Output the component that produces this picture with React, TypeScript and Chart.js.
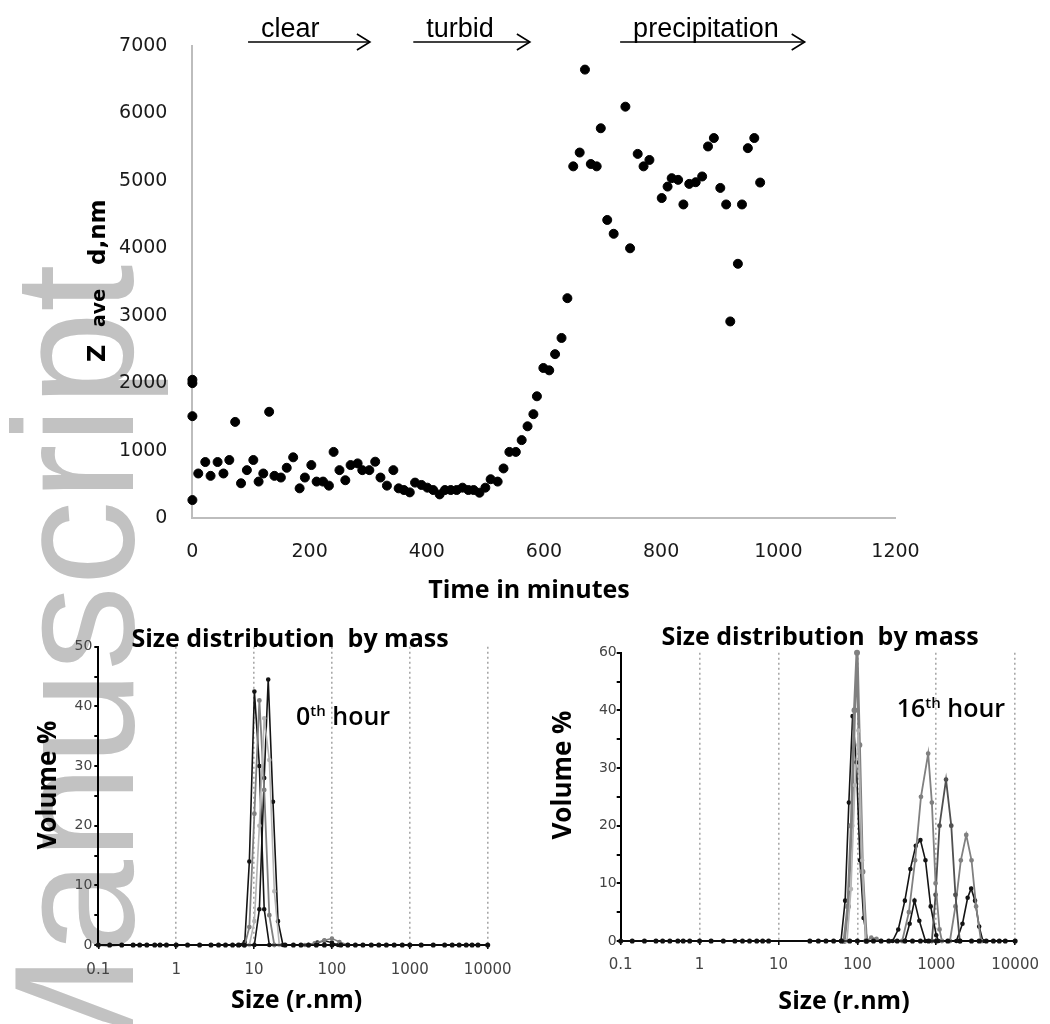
import React, { useEffect, useRef } from "react";
import { Chart, registerables } from "chart.js";

Chart.register(...registerables);

// ================= Top panel: Z-average diameter vs time =================
const timeMinutes = [
  0, 0, 0, 0, 10, 22, 31, 43, 53, 63,
  73, 83, 93, 104, 113, 121, 131, 140, 151, 161,
  172, 183, 192, 203, 212, 223, 233, 241, 251, 261,
  270, 282, 290, 302, 312, 321, 332, 343, 352, 361,
  371, 380, 391, 401, 411, 422, 431, 441, 451, 461,
  471, 480, 490, 500, 509, 521, 531, 541, 552, 562,
  572, 582, 588, 599, 609, 619, 630, 640, 650, 661,
  670, 680, 690, 697, 708, 719, 739, 747, 760, 770,
  780, 801, 811, 818, 829, 838, 848, 859, 870, 880,
  890, 901, 911, 918, 931, 938, 948, 959, 969,
];
const zAverageNm = [
  266, 1510, 2000, 2050, 660, 830, 625, 830, 660, 860,
  1425, 515, 710, 860, 540, 660, 1575, 625, 600, 745,
  900, 440, 600, 785, 540, 540, 480, 980, 710, 560,
  785, 810, 710, 710, 835, 600, 480, 710, 440, 415,
  380, 525, 490, 450, 415, 350, 415, 415, 415, 450,
  415, 415, 375, 450, 575, 540, 735, 980, 980, 1155,
  1360, 1540, 1805, 2225, 2190, 2430, 2670, 3260, 5215, 5420,
  6650, 5250, 5215, 5780, 4420, 4215, 6100, 4000, 5400, 5215,
  5310, 4745, 4915, 5040, 5015, 4650, 4955, 4980, 5065, 5510,
  5635, 4895, 4650, 2915, 3770, 4650, 5485, 5635, 4975,
];
const topXTicks = [0, 200, 400, 600, 800, 1000, 1200];
const topYTicks = [0, 1000, 2000, 3000, 4000, 5000, 6000, 7000];
const phaseLabels = ["clear", "turbid", "precipitation"];
const phaseStartMin = [95, 377, 730];
const phaseEndMin = [303, 576, 1045];
const phaseArrowLevel = 7060;

// ================= Bottom panels: size distribution by mass =================
const sizeTicks = [0.1, 1, 10, 100, 1000, 10000];
const sizeTickLabels = ["0.1", "1", "10", "100", "1000", "10000"];
const volumeTickValues = [0, 10, 20, 30, 40, 50];
const volumeTickLabelsLeft = ["0", "10", "20", "30", "40", "50"];
const volumeTickLabelsRight = ["0", "10", "20", "30", "40", "60"];

const baselineSizes = [
  0.1, 0.14, 0.2, 0.28, 0.34, 0.42, 0.53, 0.62, 0.75, 1, 1.4, 2, 2.8, 3.5, 4.3,
  5.3, 6.3, 7.5, 25, 32, 40, 50, 63, 80, 100, 130, 160, 200, 250, 320, 400,
  500, 630, 800, 1000, 1400, 2000, 2800, 3500, 4300, 5300, 6300, 7500, 10000,
];
const baselineVolumes = [
  0, 0, 0, 0, 0, 0, 0, 0, 0, 0, 0, 0, 0, 0, 0,
  0, 0, 0, 0, 0, 0, 0, 0, 0, 0, 0, 0, 0, 0, 0, 0,
  0, 0, 0, 0, 0, 0, 0, 0, 0, 0, 0, 0, 0,
];

// 0th hour curves
const h0BlackASize = [6.5, 7.6, 8.7, 10.1, 11.7, 13.5, 15.7];
const h0BlackAVol = [0, 0.5, 14, 42.5, 30, 6, 0];
const h0GrayBSize = [7.6, 8.7, 10.1, 11.7, 13.5, 15.7, 18.2];
const h0GrayBVol = [0, 3, 22, 41, 26, 5, 0];
const h0BlackCSize = [10.1, 11.7, 13.5, 15.2, 17.5, 20.3, 23.5];
const h0BlackCVol = [0, 6, 28, 44.5, 24, 4, 0];
const h0LightDSize = [8.7, 10.1, 11.7, 13.5, 15.7, 18.2, 21.1];
const h0LightDVol = [0, 4, 20, 38, 31, 9, 0];
const h0GrayESize = [45, 60, 80, 100, 125, 160];
const h0GrayEVol = [0, 0.3, 0.8, 1.1, 0.5, 0];
const h0BlackFSize = [50, 65, 80, 100, 120];
const h0BlackFVol = [0, 0.4, 0.7, 0.4, 0];

// 16th hour curves
const h16GrayThickSize = [68, 76, 84, 92, 99, 106, 116, 130];
const h16GrayThickVol = [0, 6, 20, 40, 50, 34, 12, 0];
const h16BlackASize = [62, 70, 78, 87, 97, 108, 120, 134];
const h16BlackAVol = [0, 7, 24, 39, 31, 14, 4, 0];
const h16LightSize = [74, 83, 93, 103, 115, 128];
const h16LightVol = [0, 9, 27, 36.5, 14, 0];
const h16BumpSize = [130, 150, 175, 200];
const h16BumpVol = [0, 0.6, 0.4, 0];
const h16BlackBSize = [280, 330, 400, 470, 550, 630, 730, 850, 1000, 1070];
const h16BlackBVol = [0, 2, 7, 12.5, 16.5, 17.5, 14, 6, 1, 0];
const h16GrayBSize = [370, 450, 540, 640, 790, 880, 980, 1100, 1180];
const h16GrayBVol = [0, 5, 14, 25, 32.5, 24, 10, 2, 0];
const h16DarkCSize = [880, 980, 1100, 1330, 1550, 1750, 1990];
const h16DarkCVol = [0, 8, 20, 28, 20, 8, 0];
const h16GrayDSize = [1490, 1750, 2050, 2400, 2800, 3200, 3700];
const h16GrayDVol = [0, 6, 14, 18.4, 14, 6, 0];
const h16BlackDSize = [1800, 2150, 2500, 2770, 3100, 3500, 3900];
const h16BlackDVol = [0, 3, 7.5, 9.1, 7, 2.5, 0];
const h16BlackESize = [400, 460, 530, 610, 730];
const h16BlackEVol = [0, 3, 7, 3.5, 0];

// ================= helpers =================
type Run = { text: string; font: string; at?: number; dy?: number };
type TextItem = {
  x: number;
  y: number;
  runs: Run[];
  align?: "left" | "center";
  rotate?: number;
  color?: string;
};

function drawItem(ctx: CanvasRenderingContext2D, it: TextItem) {
  ctx.save();
  ctx.translate(it.x, it.y);
  if (it.rotate) ctx.rotate(it.rotate);
  ctx.fillStyle = it.color || "#000";
  ctx.textBaseline = "alphabetic";
  ctx.textAlign = "left";
  const widths = it.runs.map((r) => {
    ctx.font = r.font;
    return ctx.measureText(r.text).width;
  });
  const total = widths.reduce((a, b) => a + b, 0);
  let x0 = it.align === "center" ? -total / 2 : 0;
  it.runs.forEach((r, i) => {
    ctx.font = r.font;
    const px = r.at !== undefined ? r.at : x0;
    ctx.fillText(r.text, px, r.dy || 0);
    x0 = px + widths[i];
  });
  ctx.restore();
}

function overlay(items: TextItem[], extra?: (c: any) => void) {
  return {
    id: "overlay",
    afterDraw(chart: any) {
      items.forEach((it) => drawItem(chart.ctx, it));
      if (extra) extra(chart);
    },
  };
}

function pairs(xs: number[], ys: number[]) {
  return xs.map((x, i) => ({ x, y: ys[i] }));
}

const BOLD = '700 25px "Open Sans"';

function ChartCanvas(props: { make: () => any; left: number; top: number; width: number; height: number }) {
  const ref = useRef<HTMLCanvasElement>(null);
  useEffect(() => {
    const chart = new Chart(ref.current as HTMLCanvasElement, props.make());
    return () => chart.destroy();
  }, []);
  return (
    <canvas
      ref={ref}
      width={props.width}
      height={props.height}
      style={{ position: "absolute", left: props.left, top: props.top, width: props.width, height: props.height }}
    />
  );
}

// ================= Top chart config =================
function makeTop() {
  const tickFont = { family: '"DejaVu Sans"', size: 19 };
  const arrows = (chart: any) => {
    const xs = chart.scales.x;
    const ys = chart.scales.y;
    const ctx: CanvasRenderingContext2D = chart.ctx;
    const yy = ys.getPixelForValue(phaseArrowLevel);
    ctx.save();
    phaseLabels.forEach((lab, i) => {
      const x1 = xs.getPixelForValue(phaseStartMin[i]);
      const x2 = xs.getPixelForValue(phaseEndMin[i]);
      ctx.strokeStyle = "#000";
      ctx.lineWidth = 1.6;
      ctx.beginPath();
      ctx.moveTo(x1, yy);
      ctx.lineTo(x2, yy);
      ctx.stroke();
      ctx.beginPath();
      ctx.moveTo(x2 - 13, yy - 8);
      ctx.lineTo(x2, yy);
      ctx.lineTo(x2 - 13, yy + 8);
      ctx.stroke();
      ctx.font = '27px "Liberation Sans"';
      ctx.fillStyle = "#000";
      ctx.textAlign = "left";
      ctx.textBaseline = "alphabetic";
      ctx.fillText(lab, x1 + 13, yy - 5);
    });
    ctx.restore();
  };
  const items: TextItem[] = [
    { x: 529, y: 598, align: "center", runs: [{ text: "Time in minutes", font: BOLD }] },
    {
      x: 105,
      y: 362,
      rotate: -Math.PI / 2,
      runs: [
        { text: "Z", font: 'bold 24px "DejaVu Sans"', at: 0 },
        { text: "ave", font: 'bold 19px "DejaVu Sans"', at: 35 },
        { text: "d,nm", font: 'bold 23px "DejaVu Sans"', at: 97 },
      ],
    },
  ];
  return {
    type: "scatter",
    data: {
      datasets: [
        {
          data: pairs(timeMinutes, zAverageNm),
          backgroundColor: "#000",
          borderColor: "#000",
          pointRadius: 4.5,
          pointHoverRadius: 4.5,
          pointStyle: "circle",
          clip: false,
        },
      ],
    },
    options: {
      responsive: false,
      animation: false,
      devicePixelRatio: 1,
      layout: { padding: { left: 0, top: 46, right: 154.5, bottom: 0 } },
      plugins: { legend: { display: false }, tooltip: { enabled: false } },
      scales: {
        x: {
          type: "linear",
          min: 0,
          max: 1200,
          afterBuildTicks: (s: any) => {
            s.ticks = topXTicks.map((v) => ({ value: v }));
          },
          ticks: { font: tickFont, color: "#1a1a1a", padding: 23, maxRotation: 0, autoSkip: false, callback: (v: any) => String(v) },
          grid: { display: false, drawTicks: false },
          border: { display: true, color: "#bdbdbd", width: 2 },
          afterFit: (s: any) => {
            s.height = 92;
          },
        },
        y: {
          type: "linear",
          min: 0,
          max: 7000,
          afterBuildTicks: (s: any) => {
            s.ticks = topYTicks.map((v) => ({ value: v }));
          },
          ticks: { font: tickFont, color: "#1a1a1a", padding: 25, autoSkip: false, callback: (v: any) => String(v) },
          grid: { display: false, drawTicks: false },
          border: { display: true, color: "#bdbdbd", width: 2 },
          afterFit: (s: any) => {
            s.width = 192.4;
          },
        },
      },
    },
    plugins: [overlay(items, arrows)],
  };
}

// ================= Bottom chart config =================
type Curve = { sizes: number[]; vols: number[]; color: string; width: number };

function makeSize(p: {
  width: number;
  height: number;
  chartLeft: number;
  chartRight: number;
  chartTop: number;
  chartBottom: number;
  yLabels: string[];
  curves: Curve[];
  titleX: number;
  titleY: number;
  hourX: number;
  hourY: number;
  hourMain: string;
  volX: number;
  volY: number;
  sizeX: number;
  sizeY: number;
  xPad: number;
  yPad: number;
}) {
  const xTickFont = { family: '"DejaVu Sans"', size: 15 };
  const yTickFont = { family: '"DejaVu Sans"', size: 14 };
  const items: TextItem[] = [
    { x: p.titleX, y: p.titleY, align: "center", runs: [{ text: "Size distribution  by mass", font: BOLD }] },
    {
      x: p.hourX,
      y: p.hourY,
      runs: [
        { text: p.hourMain, font: '600 25px "Open Sans"' },
        { text: "th", font: '600 15px "Open Sans"', dy: -9 },
        { text: " hour", font: '600 25px "Open Sans"' },
      ],
    },
    { x: p.volX, y: p.volY, rotate: -Math.PI / 2, align: "center", runs: [{ text: "Volume %", font: '700 26px "Open Sans"' }] },
    { x: p.sizeX, y: p.sizeY, align: "center", runs: [{ text: "Size (r.nm)", font: BOLD }] },
  ];
  const datasets: any[] = [
    {
      data: pairs(baselineSizes, baselineVolumes),
      borderColor: "#111",
      backgroundColor: "#111",
      borderWidth: 1.5,
      pointRadius: 1.8,
      clip: false,
    },
  ];
  p.curves.forEach((c) => {
    datasets.push({
      data: pairs(c.sizes, c.vols),
      borderColor: c.color,
      backgroundColor: c.color,
      borderWidth: c.width,
      pointRadius: 1.5,
      clip: false,
    });
  });
  return {
    type: "line",
    data: { datasets },
    options: {
      responsive: false,
      animation: false,
      devicePixelRatio: 1,
      layout: { padding: { left: 0, top: p.chartTop, right: p.width - p.chartRight, bottom: 0 } },
      plugins: { legend: { display: false }, tooltip: { enabled: false } },
      elements: { line: { tension: 0 } },
      scales: {
        x: {
          type: "logarithmic",
          min: 0.1,
          max: 10000,
          afterBuildTicks: (s: any) => {
            s.ticks = sizeTicks.map((v) => ({ value: v }));
          },
          ticks: {
            font: xTickFont,
            color: "#444",
            padding: p.xPad,
            maxRotation: 0,
            autoSkip: false,
            callback: (v: any) => {
              const i = sizeTicks.indexOf(Number(v));
              return i >= 0 ? sizeTickLabels[i] : "";
            },
          },
          grid: {
            display: true,
            drawOnChartArea: true,
            drawTicks: true,
            tickLength: 4,
            lineWidth: 1.6,
            color: (ctx: any) => (ctx.index === 0 ? "rgba(0,0,0,0)" : "#a8a8a8"),
            tickColor: "#000",
            tickWidth: 1.5,
          },
          border: { display: true, color: "#000", width: 2, dash: [2, 3] },
          afterFit: (s: any) => {
            s.height = p.height - p.chartBottom;
          },
        },
        y: {
          type: "linear",
          min: 0,
          max: 50,
          ticks: {
            stepSize: 5,
            font: yTickFont,
            color: "#444",
            padding: p.yPad,
            autoSkip: false,
            callback: (v: any) => {
              const i = volumeTickValues.indexOf(Number(v));
              return i >= 0 ? p.yLabels[i] : "";
            },
          },
          grid: { display: true, drawOnChartArea: false, drawTicks: true, tickLength: 4, color: "#000", lineWidth: 2 },
          border: { display: true, color: "#000", width: 2 },
          afterFit: (s: any) => {
            s.width = p.chartLeft;
          },
        },
      },
    },
    plugins: [overlay(items)],
  };
}

const BLACK = "#141414";
const GRAY = "#808080";
const LIGHT = "#b4b4b4";
const DARK = "#505050";

const leftCurves: Curve[] = [
  { sizes: h0LightDSize, vols: h0LightDVol, color: LIGHT, width: 1.6 },
  { sizes: h0GrayBSize, vols: h0GrayBVol, color: GRAY, width: 1.8 },
  { sizes: h0BlackASize, vols: h0BlackAVol, color: BLACK, width: 1.6 },
  { sizes: h0BlackCSize, vols: h0BlackCVol, color: BLACK, width: 1.6 },
  { sizes: h0GrayESize, vols: h0GrayEVol, color: GRAY, width: 1.5 },
  { sizes: h0BlackFSize, vols: h0BlackFVol, color: BLACK, width: 1.5 },
];

const rightCurves: Curve[] = [
  { sizes: h16LightSize, vols: h16LightVol, color: LIGHT, width: 1.6 },
  { sizes: h16GrayThickSize, vols: h16GrayThickVol, color: GRAY, width: 3 },
  { sizes: h16BlackASize, vols: h16BlackAVol, color: BLACK, width: 1.6 },
  { sizes: h16BumpSize, vols: h16BumpVol, color: GRAY, width: 1.5 },
  { sizes: h16GrayBSize, vols: h16GrayBVol, color: GRAY, width: 1.8 },
  { sizes: h16DarkCSize, vols: h16DarkCVol, color: DARK, width: 1.8 },
  { sizes: h16GrayDSize, vols: h16GrayDVol, color: GRAY, width: 1.8 },
  { sizes: h16BlackBSize, vols: h16BlackBVol, color: BLACK, width: 1.6 },
  { sizes: h16BlackDSize, vols: h16BlackDVol, color: BLACK, width: 1.6 },
  { sizes: h16BlackESize, vols: h16BlackEVol, color: BLACK, width: 1.6 },
];

export default function App() {
  return (
    <div
      style={{
        position: "absolute",
        left: 0,
        top: 0,
        width: 1050,
        height: 1024,
        background: "#fff",
        overflow: "hidden",
      }}
    >
      <div
        style={{
          position: "absolute",
          left: -11,
          top: 1096,
          transformOrigin: "0 0",
          transform: "rotate(-90deg)",
          fontFamily: '"Liberation Sans", Arial, sans-serif',
          fontSize: 170,
          lineHeight: "170px",
          whiteSpace: "nowrap",
          color: "#c2c2c2",
        }}
      >
        Manuscript
      </div>
      <ChartCanvas make={makeTop} left={0} top={0} width={1050} height={610} />
      <ChartCanvas
        left={0}
        top={610}
        width={525}
        height={414}
        make={() =>
          makeSize({
            width: 525,
            height: 414,
            chartLeft: 98.3,
            chartRight: 487.7,
            chartTop: 36.7,
            chartBottom: 335,
            yLabels: volumeTickLabelsLeft,
            curves: leftCurves,
            titleX: 290,
            titleY: 36.5,
            hourX: 296,
            hourY: 115,
            hourMain: "0",
            volX: 56,
            volY: 175,
            sizeX: 296.7,
            sizeY: 398,
            xPad: 12,
            yPad: 2,
          })
        }
      />
      <ChartCanvas
        left={525}
        top={610}
        width={525}
        height={414}
        make={() =>
          makeSize({
            width: 525,
            height: 414,
            chartLeft: 95.7,
            chartRight: 498.3,
            chartTop: 42.7,
            chartBottom: 331,
            yLabels: volumeTickLabelsRight,
            curves: rightCurves,
            titleX: 295,
            titleY: 35,
            hourX: 371.7,
            hourY: 106.7,
            hourMain: "16",
            volX: 46,
            volY: 165,
            sizeX: 319,
            sizeY: 399,
            xPad: 11,
            yPad: 0,
          })
        }
      />
    </div>
  );
}
